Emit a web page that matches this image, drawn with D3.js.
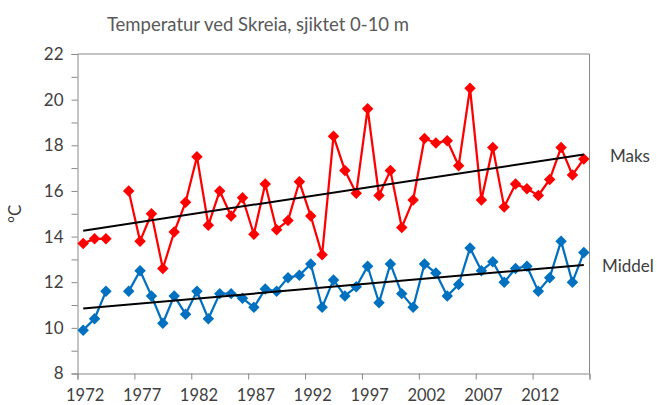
<!DOCTYPE html>
<html>
<head>
<meta charset="utf-8">
<script src="https://cdn.jsdelivr.net/npm/d3@7"></script>
<style>
  html, body { margin: 0; padding: 0; background: #fff; }
  svg { display: block; font-family: Lato, "Open Sans", sans-serif; }
</style>
</head>
<body>
<svg id="chart" width="657" height="405"></svg>
<script>
const years = d3.range(1972, 2017);
const maks = [13.7, 13.9, 13.9, null, 16.0, 13.8, 15.0, 12.6, 14.2, 15.5,
              17.5, 14.5, 16.0, 14.9, 15.7, 14.1, 16.3, 14.3, 14.7, 16.4,
              14.9, 13.2, 18.4, 16.9, 15.9, 19.6, 15.8, 16.9, 14.4, 15.6,
              18.3, 18.1, 18.2, 17.1, 20.5, 15.6, 17.9, 15.3, 16.3, 16.1,
              15.8, 16.5, 17.9, 16.7, 17.4];
const middel = [9.9, 10.4, 11.6, null, 11.6, 12.5, 11.4, 10.2, 11.4, 10.6,
                11.6, 10.4, 11.5, 11.5, 11.3, 10.9, 11.7, 11.6, 12.2, 12.3,
                12.8, 10.9, 12.1, 11.4, 11.8, 12.7, 11.1, 12.8, 11.5, 10.9,
                12.8, 12.4, 11.4, 11.9, 13.5, 12.5, 12.9, 12.0, 12.6, 12.7,
                11.6, 12.2, 13.8, 12.0, 13.3];
const xTickLabels = [1972, 1977, 1982, 1987, 1992, 1997, 2002, 2007, 2012];
const yTickLabels = [8, 10, 12, 14, 16, 18, 20, 22];
const title = "Temperatur ved Skreia, sjiktet 0-10 m";
const yTitle = "°C";
const seriesNames = ["Maks", "Middel"];

const svg = d3.select("#chart");
const L = 77.5, R = 589.5, T = 54, B = 373.5;
const axisColor = "#888888";
const textColor = "#404040";

const x = d3.scaleLinear().domain([1971.5, 2016.5]).range([L, R]);
const y = d3.scaleLinear().domain([8, 22]).range([B, T]);

// frame (top and right)
svg.append("line").attr("x1", L).attr("x2", R).attr("y1", T).attr("y2", T)
  .attr("stroke", axisColor).attr("stroke-width", 1);
svg.append("line").attr("x1", R).attr("x2", R).attr("y1", T).attr("y2", B)
  .attr("stroke", axisColor).attr("stroke-width", 1);

// y axis
const yAxis = svg.append("g").attr("transform", `translate(${L},0)`)
  .call(d3.axisLeft(y).tickValues(d3.range(8, 23, 1)).tickSize(6).tickPadding(8)
    .tickFormat(d => yTickLabels.includes(d) ? d : ""));
yAxis.select(".domain").attr("stroke", axisColor);
yAxis.selectAll(".tick line").attr("stroke", axisColor);
yAxis.selectAll("text").attr("fill", textColor).style("font-size", "17px")
  .style("font-family", "Lato, 'Open Sans', sans-serif");

// x axis: tick marks at category boundaries
const xAxisTicks = svg.append("g").attr("transform", `translate(0,${B})`)
  .call(d3.axisBottom(x).tickValues(d3.range(1971.5, 2017, 5)).tickSize(6).tickFormat(""));
xAxisTicks.select(".domain").attr("stroke", axisColor);
xAxisTicks.selectAll(".tick line").attr("stroke", axisColor);

// x labels at category centres
const xAxisLabels = svg.append("g").attr("transform", `translate(1.5,${B})`)
  .call(d3.axisBottom(x).tickValues(xTickLabels).tickSize(0).tickPadding(16).tickFormat(d3.format("d")));
xAxisLabels.select(".domain").remove();
xAxisLabels.selectAll("text").attr("fill", textColor).style("font-size", "16.5px")
  .style("font-family", "Lato, 'Open Sans', sans-serif");

// titles
svg.append("text").attr("x", 258).attr("y", 31).attr("text-anchor", "middle")
  .attr("fill", "#595959").style("font-size", "18.5px").text(title);
svg.append("text").attr("transform", `translate(21,${(T + B) / 2}) rotate(-90)`)
  .attr("text-anchor", "middle").attr("fill", textColor).style("font-size", "17px").text(yTitle);

function regression(vals) {
  const pts = years.map((yr, i) => [yr, vals[i]]).filter(p => p[1] != null);
  const mx = d3.mean(pts, p => p[0]), my = d3.mean(pts, p => p[1]);
  const sxy = d3.sum(pts, p => (p[0] - mx) * (p[1] - my));
  const sxx = d3.sum(pts, p => (p[0] - mx) ** 2);
  const b = sxy / sxx, a = my - b * mx;
  return [[years[0], a + b * years[0]], [years[years.length - 1], a + b * years[years.length - 1]]];
}

const line = d3.line().defined(d => d[1] != null).x(d => x(d[0])).y(d => y(d[1]));
const diamond = d3.symbol().type(d3.symbolSquare).size(66);

function drawSeries(vals, color) {
  const data = years.map((yr, i) => [yr, vals[i]]);
  svg.append("path").datum(data).attr("d", line).attr("fill", "none")
    .attr("stroke", color).attr("stroke-width", 2.25).attr("stroke-linejoin", "round");
  svg.append("g").selectAll("path").data(data.filter(d => d[1] != null)).join("path")
    .attr("d", diamond)
    .attr("transform", d => `translate(${x(d[0])},${y(d[1])}) rotate(45)`)
    .attr("fill", color);
}

drawSeries(maks, "#ff0000");
drawSeries(middel, "#0070c0");

[maks, middel].forEach(vals => {
  const r = regression(vals);
  svg.append("path").datum(r).attr("d", d3.line().x(d => x(d[0])).y(d => y(d[1])))
    .attr("stroke", "#000").attr("stroke-width", 2).attr("fill", "none");
});

// series labels
svg.append("text").attr("x", 610).attr("y", 162).attr("fill", textColor)
  .style("font-size", "17px").text(seriesNames[0]);
svg.append("text").attr("x", 602).attr("y", 272).attr("fill", textColor)
  .style("font-size", "17px").text(seriesNames[1]);
</script>
</body>
</html>
